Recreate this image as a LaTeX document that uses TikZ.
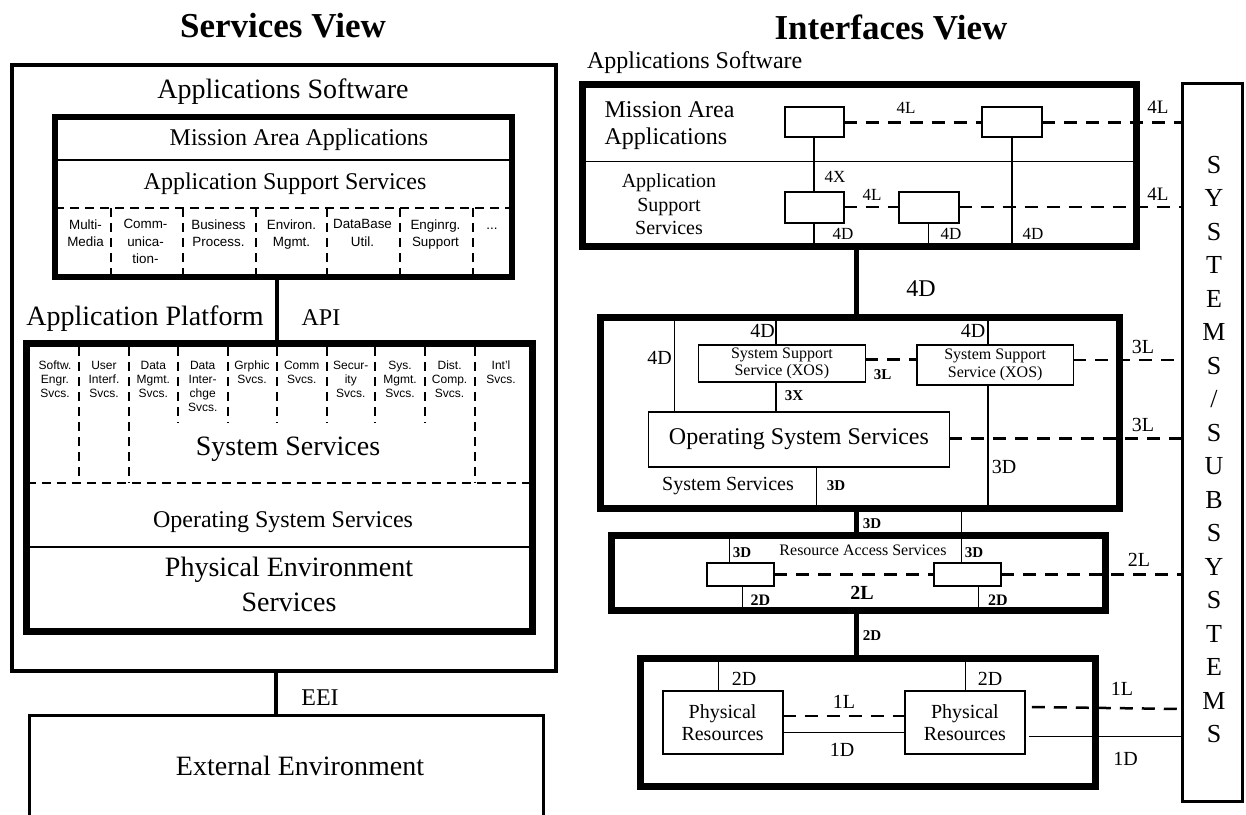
\documentclass[tikz,border=0pt]{standalone}
\usepackage{fontspec}
\setmainfont{Liberation Serif}
\setsansfont{Liberation Sans}
\newcommand\myfs[2]{\fontsize{#1pt}{#2pt}\selectfont}
\begin{document}
\begin{tikzpicture}[x=1pt,y=-1pt,
  box/.style={draw, rectangle, inner sep=0pt, outer sep=0pt},
  frame/.style={box, line width=3.2pt},
  heavy/.style={box, line width=7pt},
  small/.style={box, line width=1.8pt},
  txt/.style={inner sep=0pt, outer sep=0pt},
  lbl/.style={txt, anchor=base, font=\myfs{20}{22}},
  albl/.style={txt, anchor=base, font=\myfs{17}{19}},
  blbl/.style={txt, anchor=base, font=\myfs{15}{17}\bfseries},
  thin/.style={line width=1.5pt},
  bus/.style={line width=4.5pt},
  ldash/.style={line width=2pt, dash pattern=on 9pt off 6pt},
  rdash/.style={line width=2.5pt, dash pattern=on 13pt off 9pt},
  col/.style={txt, anchor=north, align=center, font=\sffamily\myfs{13.4}{17.5}},
  colb/.style={txt, anchor=north, align=center, font=\sffamily\myfs{12}{14}},
]
\useasboundingbox (0,0) rectangle (1246,814);

% ================= Services View =================
\node[txt, anchor=base, font=\myfs{35}{40}\bfseries] (t1) at (283,37) {Services View};
\node[frame, minimum width=544pt, minimum height=606pt] (appsw) at (284,368) {};
\node[txt, anchor=base, font=\myfs{28}{32}] (aswlbl) at (283,98) {Applications Software};

\node[heavy, line width=6.5pt, minimum width=457pt, minimum height=160pt] (mis) at (283.5,197) {};
\draw[thin] (mis.west |- 0,160) -- (mis.east |- 0,160);
\node[txt, anchor=base, font=\myfs{24}{28}] (maa) at (299,145) {Mission Area Applications};
\node[txt, anchor=base, font=\myfs{24}{28}] (assl) at (285,189) {Application Support Services};
\draw[ldash] (mis.west |- 0,208) -- (mis.east |- 0,208);
\foreach \x in {111,183,256,327,400,473} \draw[ldash] (\x,208) -- (\x,274);
\node[col] (c1) at (85.5,219.5) {Multi-\\Media};
\node[col] (c2) at (145.5,219.5) {Comm-\\unica-\\tion-};
\node[col] (c3) at (218.5,219.5) {Business\\Process.};
\node[col] (c4) at (291.5,219.5) {Environ.\\Mgmt.};
\node[col] (c5) at (362.5,219.5) {DataBase\\Util.};
\node[col] (c6) at (435.5,219.5) {Enginrg.\\Support};
\node[txt, anchor=base, font=\sffamily\myfs{13.4}{15}] (c7) at (492,229) {...};

\node[heavy, minimum width=505.5pt, minimum height=288pt] (plat) at (279.25,487) {};
\draw[bus, line width=3.5pt] (mis.south -| 277,0) -- (plat.north -| 277,0);
\node[txt, anchor=base, font=\myfs{28}{32}] (aplbl) at (145,325) {Application Platform};
\node[txt, anchor=base, font=\myfs{24}{28}] (api) at (321,325) {API};

\foreach \x in {79.3,128.6,474.5} \draw[ldash] (\x,347) -- (\x,482.7);
\foreach \x in {177.9,227.5,276.8,326.5,375,424.7} \draw[ldash] (\x,347) -- (\x,423);
\draw[ldash] (plat.west |- 0,482.7) -- (plat.east |- 0,482.7);
\node[colb] (s1) at (55,361) {Softw.\\Engr.\\Svcs.};
\node[colb] (s2) at (104,361) {User\\Interf.\\Svcs.};
\node[colb] (s3) at (153.3,361) {Data\\Mgmt.\\Svcs.};
\node[colb] (s4) at (202.7,361) {Data\\Inter-\\chge\\Svcs.};
\node[colb] (s5) at (252,361) {Grphic\\Svcs.};
\node[colb] (s6) at (301.7,361) {Comm\\Svcs.};
\node[colb] (s7) at (350.8,361) {Secur-\\ity\\Svcs.};
\node[colb] (s8) at (400,361) {Sys.\\Mgmt.\\Svcs.};
\node[colb] (s9) at (449.6,361) {Dist.\\Comp.\\Svcs.};
\node[colb] (s10) at (501,361) {Int'l\\Svcs.};
\node[txt, anchor=base, font=\myfs{28}{32}] (sysl) at (288,455) {System Services};
\node[txt, anchor=base, font=\myfs{24}{28}] (osl) at (283,527) {Operating System Services};
\draw[thin] (plat.west |- 0,547) -- (plat.east |- 0,547);
\node[txt, anchor=north, align=center, font=\myfs{28}{35}] (pel) at (289,557) {Physical Environment\\Services};

\node[box, line width=3pt, minimum width=514pt, minimum height=120pt] (ext) at (286,775) {};
\draw[bus, line width=3.5pt] (appsw.south -| 276,0) -- (ext.north -| 276,0);
\node[txt, anchor=base, font=\myfs{24}{28}] (eei) at (320,705) {EEI};
\node[txt, anchor=base, font=\myfs{28}{32}] (extl) at (300,775) {External Environment};

% ================= Interfaces View =================
\node[txt, anchor=base, font=\myfs{35}{40}\bfseries] (t2) at (891,39) {Interfaces View};
\node[txt, anchor=base west, font=\myfs{24}{28}] (asw2) at (587,68) {Applications Software};

% SYSTEMS / SUBSYSTEMS
\node[box, line width=3pt, minimum width=60pt, minimum height=718pt] (sys) at (1212.5,442) {};
\node[txt, anchor=north, align=center, font=\myfs{26}{33.5}] (systxt) at (1214,156)
  {S\\Y\\S\\T\\E\\M\\S\\/\\S\\U\\B\\S\\Y\\S\\T\\E\\M\\S};

% Box A
\node[heavy, minimum width=554pt, minimum height=162pt] (boxA) at (859,165) {};
\draw[thin] (boxA.west |- 0,161.7) -- (boxA.east |- 0,161.7);
\node[txt, anchor=north west, align=left, font=\myfs{24}{26.6}] (mal) at (604.5,102) {Mission Area\\Applications};
\node[txt, anchor=north, align=center, font=\myfs{20}{23.3}] (asl2) at (669,174) {Application\\Support\\Services};
\node[small, minimum width=59pt, minimum height=30pt] (ma1) at (814.2,122.3) {};
\node[small, minimum width=60pt, minimum height=30pt] (ma2) at (1011.8,122.3) {};
\node[small, minimum width=59pt, minimum height=31pt] (as1) at (814.2,207.2) {};
\node[small, minimum width=60pt, minimum height=31pt] (as2) at (928.6,207.2) {};
\draw[thin] (ma1.south) -- (as1.north);
\draw[thin] (as1.south) -- (as1.south |- boxA.south);
\draw[thin] (as2.south) -- (as2.south |- boxA.south);
\draw[thin] (ma2.south) -- (ma2.south |- boxA.south);
\draw[rdash, line width=3pt] (ma1.east) -- (ma2.west);
\draw[rdash] (ma2.east) -- (ma2.east -| sys.west);
\draw[rdash] (as1.east) -- (as2.west);
\draw[rdash] (as2.east) -- (as2.east -| sys.west);
\node[albl] (l4l1) at (906,113) {4L};
\node[albl, font=\myfs{19}{21}] (l4l2) at (1158,113) {4L};
\node[albl] (l4x) at (835,182.7) {4X};
\node[albl] (l4l3) at (872,200) {4L};
\node[albl, font=\myfs{19}{21}] (l4l4) at (1158,200) {4L};
\node[albl] (l4d1) at (843,239) {4D};
\node[albl] (l4d2) at (951,239) {4D};
\node[albl] (l4d3) at (1033,239) {4D};

% Box B
\node[heavy, minimum width=519pt, minimum height=191pt] (boxB) at (859.5,412.5) {};
\draw[bus] (boxA.south -| 856.6,0) -- (boxB.north -| 856.6,0);
\node[txt, anchor=base, font=\myfs{24}{28}] (l4dbig) at (921,296.7) {4D};
\node[small, minimum width=167pt, minimum height=37pt, align=center, font=\myfs{16}{17.5}] (sss1) at (781.9,363.5) {System Support\\Service (XOS)};
\node[small, minimum width=156.4pt, minimum height=40pt, align=center, font=\myfs{16}{17.5}] (sss2) at (995.2,365) {System Support\\Service (XOS)};
\node[small, minimum width=301pt, minimum height=55.6pt, font=\myfs{24}{28}] (oss) at (798.9,439.5) {Operating System Services};
\draw[thin] (boxB.north -| 674.7,0) -- (oss.north -| 674.7,0);
\draw[thin] (boxB.north -| 776,0) -- (sss1.north -| 776,0);
\draw[thin] (sss1.south -| 776,0) -- (oss.north -| 776,0);
\draw[thin] (boxB.north -| 988,0) -- (sss2.north -| 988,0);
\draw[thin] (sss2.south -| 988,0) -- (boxB.south -| 988,0);
\draw[thin] (oss.south -| 816.6,0) -- (boxB.south -| 816.6,0);
\draw[rdash] (sss1.east |- 0,359.5) -- (sss2.west |- 0,359.5);
\draw[rdash] (sss2.east |- 0,360) -- (sys.west |- 0,360);
\draw[rdash] (oss.east |- 0,438.3) -- (sys.west |- 0,438.3);
\node[lbl] (b4d1) at (659.5,364) {4D};
\node[lbl] (b4d2) at (762.5,337.3) {4D};
\node[lbl] (b4d3) at (973,337.3) {4D};
\node[blbl] (b3l1) at (882.5,379.3) {3L};
\node[lbl] (b3l2) at (1143,353.3) {3L};
\node[blbl] (b3x) at (794,400) {3X};
\node[lbl] (b3l3) at (1143,431.7) {3L};
\node[lbl] (b3d1) at (1004,473.3) {3D};
\node[blbl] (b3d2) at (836,490) {3D};
\node[txt, anchor=base, font=\myfs{20}{23}] (bss) at (728,490) {System Services};

% Resource Access Services box
\node[heavy, minimum width=494pt, minimum height=74.5pt] (rasbox) at (858.5,572.75) {};
\draw[bus] (boxB.south -| 856.6,0) -- (rasbox.north -| 856.6,0);
\node[txt, anchor=base, font=\myfs{16}{18}] (rasl) at (863,555) {Resource Access Services};
\node[small, minimum width=67pt, minimum height=22.7pt] (ras1) at (740.5,574.7) {};
\node[small, minimum width=67pt, minimum height=22.7pt] (ras2) at (967.5,574.7) {};
\draw[thin] (boxB.south -| 961.4,0) -- (ras2.north -| 961.4,0);
\draw[thin] (rasbox.north -| 729.5,0) -- (ras1.north -| 729.5,0);
\draw[thin] (ras1.south -| 742.4,0) -- (rasbox.south -| 742.4,0);
\draw[thin] (ras2.south -| 978.6,0) -- (rasbox.south -| 978.6,0);
\draw[rdash] (ras1.east) -- (ras2.west);
\draw[rdash] (ras2.east) -- (ras2.east -| sys.west);
\node[blbl] (r3d1) at (872,528) {3D};
\node[blbl] (r3d2) at (742,557.3) {3D};
\node[blbl] (r3d3) at (974,557.3) {3D};
\node[txt, anchor=base, font=\myfs{20}{22}\bfseries] (r2l1) at (862,599.3) {2L};
\node[lbl] (r2l2) at (1139,566.7) {2L};
\node[blbl, font=\myfs{16}{18}\bfseries] (r2d1) at (760.5,605) {2D};
\node[blbl, font=\myfs{16}{18}\bfseries] (r2d2) at (998,605) {2D};

% Physical Resources box
\node[heavy, minimum width=455pt, minimum height=128.4pt] (prbox) at (868,722.5) {};
\draw[bus] (rasbox.south -| 856.6,0) -- (prbox.north -| 856.6,0);
\node[blbl] (p2d0) at (872,640) {2D};
\node[small, minimum width=120pt, minimum height=63.3pt, align=center, font=\myfs{20}{22.4}] (pr1) at (722.6,722.4) {Physical\\Resources};
\node[small, minimum width=119.7pt, minimum height=63.3pt, align=center, font=\myfs{20}{22.4}] (pr2) at (964.9,722.4) {Physical\\Resources};
\draw[thin] (prbox.north -| 718.7,0) -- (pr1.north -| 718.7,0);
\draw[thin] (prbox.north -| 965.7,0) -- (pr2.north -| 965.7,0);
\draw[rdash] (pr1.east |- 0,716) -- (pr2.west |- 0,716);
\draw[thin] (pr1.east |- 0,732.7) -- (pr2.west |- 0,732.7);
\draw[rdash] ([xshift=7pt]pr2.east |- 0,707) -- (sys.west |- 0,709);
\draw[thin] ([xshift=4pt]pr2.east |- 0,736.7) -- (sys.west |- 0,736.7);
\node[lbl] (p2d1) at (744,685) {2D};
\node[lbl] (p2d2) at (990,685) {2D};
\node[lbl] (p1l1) at (844,708.3) {1L};
\node[lbl] (p1d1) at (842,756.7) {1D};
\node[lbl] (p1l2) at (1122,695) {1L};
\node[lbl] (p1d2) at (1125.5,765) {1D};
\end{tikzpicture}
\end{document}
